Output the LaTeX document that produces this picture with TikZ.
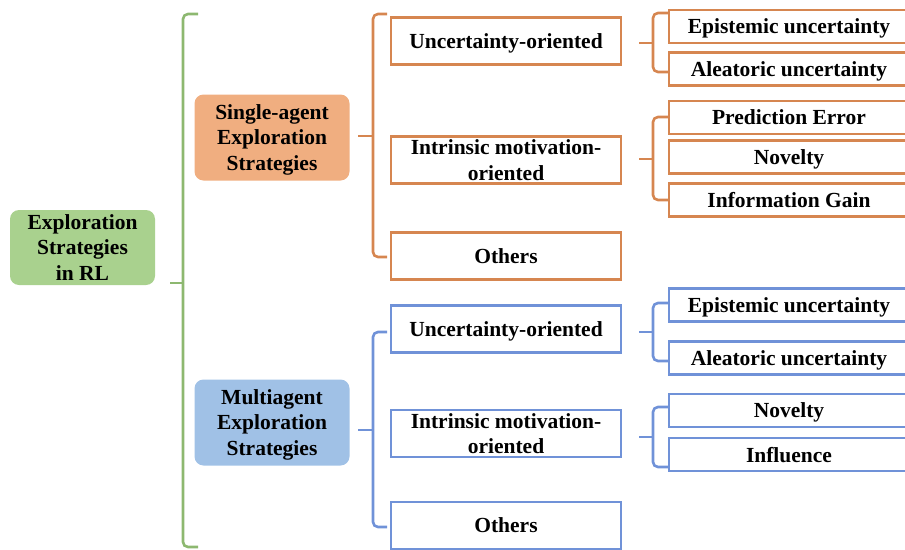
\documentclass[tikz,border=0pt]{standalone}
\usepackage{fontspec}
\setmainfont{Liberation Serif}
\usetikzlibrary{positioning}
\definecolor{rootfill}{RGB}{169,209,142}
\definecolor{grnline}{RGB}{141,184,112}
\definecolor{orgfill}{RGB}{240,174,128}
\definecolor{orgline}{RGB}{214,134,80}
\definecolor{blufill}{RGB}{160,193,230}
\definecolor{bluline}{RGB}{112,146,216}
\newlength{\lwidth}
\setlength{\lwidth}{2.6pt}

\begin{document}
\begin{tikzpicture}[x=1pt,y=-1pt,
  every node/.style={font=\fontsize{21.5}{25.5}\selectfont\bfseries,align=center,
                     inner sep=0pt,text depth=0pt},
  topbox/.style={rounded corners=9pt,minimum width=155pt,minimum height=86pt},
  midbox/.style={draw,line width=\lwidth,fill=white,minimum width=230pt,minimum height=47pt},
  leafbox/.style={draw,line width=\lwidth,fill=white,minimum width=240pt,minimum height=33pt},
  brace/.style={line width=\lwidth,rounded corners=5pt}]
  \useasboundingbox (0,0) rectangle (905,549);

  %% columns
  %% ------------------------------------
  \pgfmathsetmacro{\xroot}{82.5}
  \pgfmathsetmacro{\xtop}{272}
  \pgfmathsetmacro{\xmid}{506}
  \pgfmathsetmacro{\xleaf}{789}

  %% root and first level
  %% ------------------------------------
  \node[topbox,fill=rootfill,minimum width=145pt,minimum height=75pt] (root)
       at (\xroot,247.5) {Exploration\\Strategies\\in RL};
  \node[topbox,fill=orgfill] (single) at (\xtop,137.5) {Single-agent\\Exploration\\Strategies};
  \node[topbox,fill=blufill] (multi)  at (\xtop,422.5) {Multiagent\\Exploration\\Strategies};

  %% single-agent branch
  %% ------------------------------------
  \node[midbox,draw=orgline] (uoS) at (\xmid,41)  {Uncertainty-oriented};
  \node[midbox,draw=orgline] (imS) at (\xmid,160) {Intrinsic motivation-\\oriented};
  \node[midbox,draw=orgline] (otS) at (\xmid,256) {Others};
  \node[leafbox,draw=orgline] (epS) at (\xleaf,26.5)  {Epistemic uncertainty};
  \node[leafbox,draw=orgline] (alS) at (\xleaf,69)    {Aleatoric uncertainty};
  \node[leafbox,draw=orgline] (peS) at (\xleaf,117.5) {Prediction Error};
  \node[leafbox,draw=orgline] (nvS) at (\xleaf,157)   {Novelty};
  \node[leafbox,draw=orgline] (igS) at (\xleaf,200)   {Information Gain};

  %% multiagent branch
  %% ------------------------------------
  \node[midbox,draw=bluline] (uoM) at (\xmid,329)   {Uncertainty-oriented};
  \node[midbox,draw=bluline] (imM) at (\xmid,433.5) {Intrinsic motivation-\\oriented};
  \node[midbox,draw=bluline] (otM) at (\xmid,525.5) {Others};
  \node[leafbox,draw=bluline] (epM) at (\xleaf,305)   {Epistemic uncertainty};
  \node[leafbox,draw=bluline] (alM) at (\xleaf,358)   {Aleatoric uncertainty};
  \node[leafbox,draw=bluline] (nvM) at (\xleaf,410.5) {Novelty};
  \node[leafbox,draw=bluline] (inM) at (\xleaf,454.5) {Influence};

  %% brackets
  %% ------------------------------------
  \coordinate (g0) at (170,283); \coordinate (g1) at (183,283);
  \draw[brace,grnline] (198,14) -- (183,14) -- (183,547) -- (198,547);
  \draw[brace,grnline] (g0) -- (g1);

  \coordinate (s0) at (358,136); \coordinate (s1) at (373,136);
  \draw[brace,orgline] (387,14) -- (373,14) -- (373,257) -- (387,257);
  \draw[brace,orgline] (s0) -- (s1);

  \coordinate (m0) at (358,430); \coordinate (m1) at (373,430);
  \draw[brace,bluline] (387,332) -- (373,332) -- (373,527) -- (387,527);
  \draw[brace,bluline] (m0) -- (m1);

  \coordinate (su0) at (639,43);  \coordinate (su1) at (653,43);
  \draw[brace,orgline] (668,13) -- (653,13) -- (653,72) -- (668,72);
  \draw[brace,orgline] (su0) -- (su1);

  \coordinate (si0) at (639,159); \coordinate (si1) at (653,159);
  \draw[brace,orgline] (668,117) -- (653,117) -- (653,200) -- (668,200);
  \draw[brace,orgline] (si0) -- (si1);

  \coordinate (mu0) at (639,332); \coordinate (mu1) at (653,332);
  \draw[brace,bluline] (668,303) -- (653,303) -- (653,361) -- (668,361);
  \draw[brace,bluline] (mu0) -- (mu1);

  \coordinate (mi0) at (639,437); \coordinate (mi1) at (653,437);
  \draw[brace,bluline] (668,407) -- (653,407) -- (653,467) -- (668,467);
  \draw[brace,bluline] (mi0) -- (mi1);

\end{tikzpicture}
\end{document}
